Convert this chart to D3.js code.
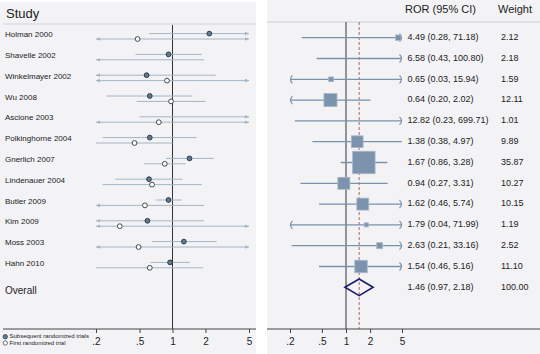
<!DOCTYPE html>
<html>
<head>
<meta charset="utf-8">
<script src="https://cdn.jsdelivr.net/npm/d3@7"></script>
<style>
  body { margin: 0; background: #fff; }
  svg text { font-family: "Liberation Sans", Arial, sans-serif; fill: #222; }
</style>
</head>
<body>
<div id="forest"></div>
<script>
// ---- data ----
const studies = ["Holman 2000", "Shavelle 2002", "Winkelmayer 2002", "Wu 2008", "Ascione 2003",
  "Polkinghorne 2004", "Gnerlich 2007", "Lindenauer 2004", "Butler 2009", "Kim 2009", "Moss 2003", "Hahn 2010"];

// subsequent randomized trials (filled)
const subEst = [2.17, 0.92, 0.58, 0.62, 9.6, 0.62, 1.43, 0.61, 0.92, 0.59, 1.27, 0.95];
const subLo  = [0.61, 0.46, 0.05, 0.25, 0.50, 0.23, 0.87, 0.30, 0.70, 0.03, 0.65, 0.63];
const subHi  = [9.5, 1.85, 2.48, 1.52, 120, 1.66, 2.38, 1.24, 1.21, 1.94, 2.53, 1.44];

// first randomized trial (open)
const firstEst = [0.48, 0.14, 0.89, 0.97, 0.75, 0.45, 0.85, 0.65, 0.56, 0.33, 0.49, 0.62];
const firstLo  = [0.04, 0.01, 0.09, 0.47, 0.02, 0.20, 0.55, 0.23, 0.16, 0.01, 0.05, 0.20];
const firstHi  = [6.8, 1.95, 8.9, 2.01, 25, 1.00, 1.32, 1.85, 1.95, 10, 5.3, 1.91];

// ratio of odds ratios and weights
const ror    = [4.49, 6.58, 0.65, 0.64, 12.82, 1.38, 1.67, 0.94, 1.62, 1.79, 2.63, 1.54];
const rorLo  = [0.28, 0.43, 0.03, 0.198, 0.23, 0.38, 0.86, 0.27, 0.46, 0.04, 0.21, 0.46];
const rorHi  = [71.18, 100.80, 15.94, 2.02, 699.71, 4.97, 3.28, 3.31, 5.74, 71.99, 33.16, 5.16];
const weights = [2.12, 2.18, 1.59, 12.11, 1.01, 9.89, 35.87, 10.27, 10.15, 1.19, 2.52, 11.10];
const overall = {est: 1.46, lo: 0.97, hi: 2.18, weight: 100.00};

const ticks = [0.2, 0.5, 1, 2, 5];
const tickText = [".2", ".5", "1", "2", "5"];

// ---- layout ----
const width = 540, height = 354;
const axisY = 329;
const lineCol = "#a3b5c8", rorCol = "#7a92ac";

const svg = d3.select("#forest")
              .append("svg")
                .attr("width", width)
                .attr("height", height);

// panel backgrounds
svg.append("rect").attr("x", 0).attr("y", 2).attr("width", 256).attr("height", height - 2).attr("fill", "#f3f3f5");
svg.append("rect").attr("x", 267).attr("y", 0).attr("width", width - 267).attr("height", height).attr("fill", "#f3f3f5");

// scales
const xl = d3.scaleLog().domain([0.2, 5]).range([96, 249]);
const xr = d3.scaleLog().domain([0.2, 5]).range([290, 402]);
const yl = d3.scalePoint().domain(studies).range([36.3, 36.3 + 20.8 * 11]);
const yr = d3.scalePoint().domain(studies).range([37.7, 37.7 + 20.8 * 11]);
const clamp = v => Math.max(0.2, Math.min(5, v));

// ================= left panel =================
const left = svg.append("g");

left.append("text").attr("x", 6).attr("y", 18).attr("font-size", 13).text("Study");
left.append("line").attr("x1", 3).attr("x2", 256).attr("y1", 24).attr("y2", 24)
    .attr("stroke", "#d0d0d4");

left.selectAll(".lab")
    .data(studies)
    .join("text")
      .attr("class", "lab")
      .attr("x", 5)
      .attr("y", d => yl(d) - 1.3)
      .attr("dominant-baseline", "middle")
      .attr("font-size", 8)
      .text(d => d);

left.append("text").attr("x", 5).attr("y", 291.7).attr("dominant-baseline", "middle")
    .attr("font-size", 10).text("Overall");

// null line
left.append("line").attr("x1", xl(1)).attr("x2", xl(1)).attr("y1", 25).attr("y2", axisY)
    .attr("stroke", "#333").attr("stroke-width", 1);

const rowsL = [];
studies.forEach(function(s, i) {
  rowsL.push({y: yl(s) - 2.7, est: subEst[i], lo: subLo[i], hi: subHi[i], filled: true});
  rowsL.push({y: yl(s) + 2.7, est: firstEst[i], lo: firstLo[i], hi: firstHi[i], filled: false});
});

left.selectAll(".ci")
    .data(rowsL)
    .join("line")
      .attr("x1", d => xl(clamp(d.lo)))
      .attr("x2", d => xl(clamp(d.hi)))
      .attr("y1", d => d.y).attr("y2", d => d.y)
      .attr("stroke", lineCol).attr("stroke-width", 1);

// small arrow heads where the interval runs off the axis
left.selectAll(".arrL")
    .data(rowsL.filter(d => d.lo < 0.2))
    .join("path")
      .attr("d", d => `M${xl(0.2)},${d.y} l4,-1.8 l0,3.6 z`)
      .attr("fill", lineCol);
left.selectAll(".arrR")
    .data(rowsL.filter(d => d.hi > 5))
    .join("path")
      .attr("d", d => `M${xl(5)},${d.y} l-4,-1.8 l0,3.6 z`)
      .attr("fill", lineCol);

left.selectAll(".pt")
    .data(rowsL.filter(d => d.est >= 0.2 && d.est <= 5))
    .join("circle")
      .attr("cx", d => xl(d.est))
      .attr("cy", d => d.y)
      .attr("r", 2.4)
      .attr("fill", d => d.filled ? "#5c7c9c" : "#fff")
      .attr("stroke", "#1e1e1e")
      .attr("stroke-width", 0.8);

// axis
left.append("line").attr("x1", 3).attr("x2", 256).attr("y1", axisY).attr("y2", axisY)
    .attr("stroke", "#444");
const axL = left.append("g")
    .attr("transform", `translate(0,${axisY})`)
    .call(d3.axisBottom(xl).tickValues(ticks).tickSize(4).tickFormat((d, i) => tickText[i]));
axL.select(".domain").remove();
axL.selectAll("line").attr("stroke", "#444");
axL.selectAll("text").attr("font-size", 10).attr("dy", "0.9em").style("font-family", "Liberation Sans, Arial, sans-serif");

// legend
left.append("circle").attr("cx", 5.3).attr("cy", 336.7).attr("r", 2.2)
    .attr("fill", "#5c7c9c").attr("stroke", "#1e1e1e").attr("stroke-width", 0.6);
left.append("circle").attr("cx", 5.3).attr("cy", 343).attr("r", 2.2)
    .attr("fill", "#fff").attr("stroke", "#1e1e1e").attr("stroke-width", 0.6);
left.append("text").attr("x", 9.5).attr("y", 336.9).attr("dominant-baseline", "middle")
    .attr("font-size", 6).text("Subsequent randomized trials");
left.append("text").attr("x", 9.5).attr("y", 343.2).attr("dominant-baseline", "middle")
    .attr("font-size", 6).text("First randomized trial");

// ================= right panel =================
const right = svg.append("g");

right.append("text").attr("x", 405).attr("y", 13).attr("font-size", 11).text("ROR (95% CI)");
right.append("text").attr("x", 498).attr("y", 13).attr("font-size", 11).text("Weight");
right.append("line").attr("x1", 267).attr("x2", width).attr("y1", 22).attr("y2", 22)
    .attr("stroke", "#d0d0d4");

right.append("line").attr("x1", xr(1)).attr("x2", xr(1)).attr("y1", 22).attr("y2", axisY)
    .attr("stroke", "#555").attr("stroke-width", 1.2);
right.append("line").attr("x1", xr(overall.est)).attr("x2", xr(overall.est)).attr("y1", 22).attr("y2", axisY)
    .attr("stroke", "#b0636a").attr("stroke-width", 1).attr("stroke-dasharray", "3,2");

const rowsR = studies.map(function(s, i) {
  return {y: yr(s), est: ror[i], lo: rorLo[i], hi: rorHi[i], w: weights[i]};
});
const fmt = d3.format(".2f");

right.selectAll(".ci")
    .data(rowsR)
    .join("line")
      .attr("x1", d => xr(clamp(d.lo)))
      .attr("x2", d => xr(clamp(d.hi)))
      .attr("y1", d => d.y).attr("y2", d => d.y)
      .attr("stroke", rorCol).attr("stroke-width", 1.3);

// bracket-like arrows at the clipped ends
right.selectAll(".brR")
    .data(rowsR.filter(d => d.hi > 5))
    .join("path")
      .attr("d", d => `M${xr(5) - 2.5},${d.y - 4} Q${xr(5) + 1.5},${d.y} ${xr(5) - 2.5},${d.y + 4}`)
      .attr("fill", "none").attr("stroke", rorCol).attr("stroke-width", 1.2);
right.selectAll(".brL")
    .data(rowsR.filter(d => d.lo < 0.2))
    .join("path")
      .attr("d", d => `M${xr(0.2) + 2.5},${d.y - 4} Q${xr(0.2) - 1.5},${d.y} ${xr(0.2) + 2.5},${d.y + 4}`)
      .attr("fill", "none").attr("stroke", rorCol).attr("stroke-width", 1.2);

// weight squares, area proportional to weight
const side = d => 3.75 * Math.sqrt(d.w);
right.selectAll(".sq")
    .data(rowsR.filter(d => d.est >= 0.2 && d.est <= 5))
    .join("rect")
      .attr("x", d => xr(d.est) - side(d) / 2)
      .attr("y", d => d.y - side(d) / 2)
      .attr("width", side)
      .attr("height", side)
      .attr("fill", "#7b93ad")
      .attr("stroke", "#a9b9c9")
      .attr("stroke-width", 0.8);

right.selectAll(".est")
    .data(rowsR)
    .join("text")
      .attr("x", 407.5)
      .attr("y", d => d.y)
      .attr("dominant-baseline", "middle")
      .attr("font-size", 9)
      .text(d => `${fmt(d.est)} (${fmt(d.lo)}, ${fmt(d.hi)})`);
right.selectAll(".wt")
    .data(rowsR)
    .join("text")
      .attr("x", 501)
      .attr("y", d => d.y)
      .attr("dominant-baseline", "middle")
      .attr("font-size", 9)
      .text(d => fmt(d.w));

// overall diamond
const oy = 37.7 + 20.8 * 12;
right.append("path")
    .attr("d", `M${xr(overall.lo)},${oy} L${xr(overall.est)},${oy - 8.3} L${xr(overall.hi)},${oy} L${xr(overall.est)},${oy + 8.3} Z`)
    .attr("fill", "none").attr("stroke", "#1b1f6b").attr("stroke-width", 1.6);
right.append("text").attr("x", 407.5).attr("y", oy).attr("dominant-baseline", "middle").attr("font-size", 9)
    .text(`${fmt(overall.est)} (${fmt(overall.lo)}, ${fmt(overall.hi)})`);
right.append("text").attr("x", 501).attr("y", oy).attr("dominant-baseline", "middle").attr("font-size", 9)
    .text(fmt(overall.weight));

// axis
right.append("line").attr("x1", 267).attr("x2", width).attr("y1", axisY).attr("y2", axisY)
    .attr("stroke", "#444");
const axR = right.append("g")
    .attr("transform", `translate(0,${axisY})`)
    .call(d3.axisBottom(xr).tickValues(ticks).tickSize(4).tickFormat((d, i) => tickText[i]));
axR.select(".domain").remove();
axR.selectAll("line").attr("stroke", "#444");
axR.selectAll("text").attr("font-size", 10).attr("dy", "0.9em").style("font-family", "Liberation Sans, Arial, sans-serif");
</script>
</body>
</html>
